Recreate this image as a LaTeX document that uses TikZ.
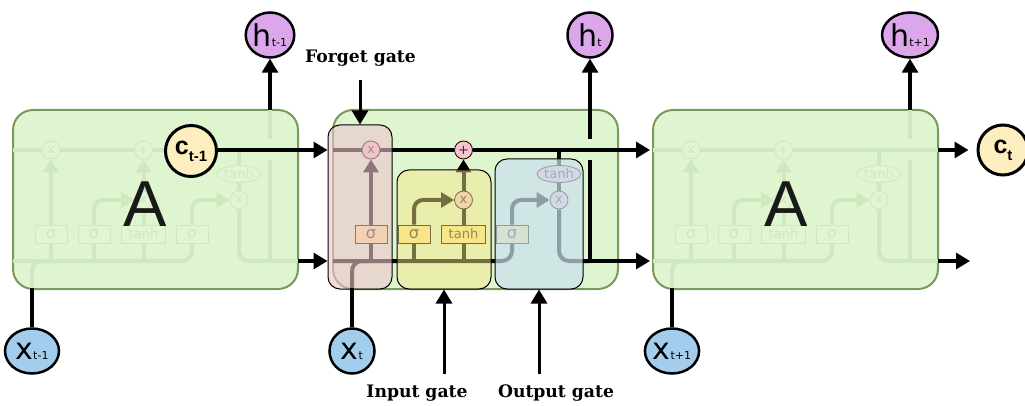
\documentclass[tikz,border=0pt]{standalone}
\usepackage{fontspec}
\setmainfont{DejaVu Sans}
\newfontfamily\arialf{Liberation Sans}
\newfontfamily\labfont{DejaVu Serif}
\usetikzlibrary{arrows.meta,shapes.geometric}
\definecolor{cellfill}{RGB}{222,245,207}
\definecolor{cellborder}{RGB}{122,153,92}
\definecolor{fadeline}{RGB}{207,232,192}
\definecolor{fadefill}{RGB}{225,245,211}
\definecolor{boxyellow}{RGB}{253,228,138}
\definecolor{oppink}{RGB}{248,195,203}
\definecolor{hpurple}{RGB}{219,167,234}
\definecolor{xblue}{RGB}{163,205,237}
\definecolor{ccream}{RGB}{253,238,192}
\definecolor{forgetc}{RGB}{237,197,205}
\definecolor{inputc}{RGB}{245,232,135}
\definecolor{outputc}{RGB}{201,224,239}
\definecolor{darktxt}{RGB}{50,50,50}
\colorlet{cl}{black}
\colorlet{cboxf}{boxyellow}
\colorlet{copf}{oppink}
\colorlet{ctxt}{darktxt}

\tikzset{
  cellbox/.style={draw=cellborder, line width=2pt, fill=cellfill, rounded corners=20pt},
  ln/.style={draw=cl, line width=4pt},
  intip/.style={-{Triangle[length=13pt,width=15pt]}},
  gbox/.style={draw=cl, line width=0.8pt, fill=cboxf, text=ctxt, minimum height=18pt, inner sep=0pt, font=\fontsize{16}{16}\selectfont},
  opc/.style={circle, draw=cl, line width=0.8pt, fill=copf, text=ctxt, minimum size=18pt, inner sep=0pt, font=\fontsize{13}{13}\selectfont},
  thell/.style={ellipse, draw=cl, line width=0.8pt, fill=copf, text=ctxt, minimum width=44pt, minimum height=17pt, inner sep=0pt, font=\fontsize{13}{13}\selectfont},
  gate/.style={rectangle, draw=black, line width=1pt, rounded corners=12pt},
  blk/.style={draw=black, line width=3.2pt},
  arr/.style={draw=black, line width=3.2pt, -{Triangle[length=14pt,width=16pt]}},
  hnode/.style={ellipse, draw=black, line width=2.5pt, fill=hpurple, inner sep=0pt, minimum height=45pt, minimum width=45pt},
  xnode/.style={ellipse, draw=black, line width=2.5pt, fill=xblue, inner sep=0pt, minimum height=45pt, minimum width=45pt},
  cnode/.style={circle, draw=black, line width=3pt, fill=ccream, inner sep=0pt, minimum size=51pt},
  glabel/.style={font=\labfont\bfseries\fontsize{17.2}{17.2}\selectfont, inner sep=0pt},
  bigA/.style={font=\arialf\fontsize{65}{65}\selectfont, inner sep=0pt, text=black!90}
}

\newcommand\lstmbody[2]{%
\begin{scope}[shift={(#2,0)}]
\coordinate (#1cin) at (0,150);
\coordinate (#1cout) at (285,150);
\coordinate (#1hin) at (0,261);
\coordinate (#1hout) at (285,261);
\coordinate (#1top) at (257,110);
\coordinate (#1gt) at (257,139);
\coordinate (#1gb) at (257,160);
\coordinate (#1hj) at (257,261);
\coordinate (#1tj) at (226,150);
\coordinate (#1bot) at (19,288);
\coordinate (#1xj) at (45,261);
\node[opc] (#1fx) at (38,150) {x};
\node[opc] (#1add) at (130.5,150) {+};
\node[opc] (#1ix) at (130.5,200) {x};
\node[opc] (#1ox) at (226,200) {x};
\node[thell] (#1th) at (226,174) {tanh};
\node[gbox, minimum width=32pt] (#1s1) at (38,234) {σ};
\node[gbox, minimum width=32pt] (#1s2) at (81,234) {σ};
\node[gbox, minimum width=44pt, font=\fontsize{13}{13}\selectfont] (#1tb) at (130.5,234) {tanh};
\node[gbox, minimum width=32pt] (#1s3) at (179,234) {σ};
\draw[ln] (#1cin) -- (#1fx);
\draw[ln] (#1fx) -- (#1add);
\draw[ln] (#1add) -- (#1cout);
\draw[ln] (#1tj) -- (#1th);
\draw[ln] (#1th) -- (#1ox);
\draw[ln, rounded corners=10pt] (#1ox) |- (#1hj);
\draw[ln] (#1top) -- (#1gt);
\draw[ln] (#1gb) -- (#1hj) -- (#1hout);
\draw[ln, rounded corners=10pt] (#1hin) -| (#1s3);
\draw[ln, rounded corners=10pt] (#1bot) |- (#1xj);
\draw[ln] (#1s1) -- (#1s1 |- #1hin);
\draw[ln] (#1s2) -- (#1s2 |- #1hin);
\draw[ln] (#1tb) -- (#1tb |- #1hin);
\draw[ln, intip] (#1s1) -- (#1fx);
\draw[ln, intip, rounded corners=9pt] (#1s2) |- (#1ix);
\draw[ln] (#1tb) -- (#1ix);
\draw[ln, intip] (#1ix) -- (#1add);
\draw[ln, intip, rounded corners=9pt] (#1s3) |- (#1ox);
\end{scope}}

\begin{document}
\begin{tikzpicture}[x=1pt, y=-1pt]
\useasboundingbox (0,0) rectangle (1025,406);

% ---------- left cell (faded) ----------
\draw[cellbox] (13,110) rectangle (298,289);
\colorlet{cl}{fadeline}\colorlet{cboxf}{fadefill}\colorlet{copf}{fadefill}\colorlet{ctxt}{fadeline}
\lstmbody{L}{13}
\node[bigA] (LA) at (145,204) {A};

% ---------- right cell (faded) ----------
\draw[cellbox] (653,110) rectangle (938,289);
\lstmbody{R}{653}
\node[bigA] (RA) at (786,204) {A};

% ---------- middle cell ----------
\draw[cellbox] (333,110) rectangle (618,289);
\colorlet{cl}{black}\colorlet{cboxf}{boxyellow}\colorlet{copf}{oppink}\colorlet{ctxt}{darktxt}
\lstmbody{M}{333}

% gate overlays
\node[gate, fill=forgetc, fill opacity=0.6, minimum width=64pt, minimum height=164pt] (fgate) at (360,207) {};
\node[gate, fill=inputc, fill opacity=0.48, minimum width=94pt, minimum height=119pt] (igate) at (444,229.5) {};
\node[gate, fill=outputc, fill opacity=0.71, minimum width=88pt, minimum height=130pt] (ogate) at (539,224) {};

% ---------- outer circles ----------
\node[hnode] (hL) at (270,35) {{\fontsize{30}{30}\selectfont h}{\fontsize{11}{11}\selectfont t-1}};
\node[hnode] (hM) at (590,35) {{\fontsize{30}{30}\selectfont h}{\fontsize{11}{11}\selectfont t}};
\node[hnode, minimum width=48pt] (hR) at (910,35) {{\fontsize{30}{30}\selectfont h}{\fontsize{11}{11}\selectfont t+1}};
\node[xnode, minimum width=54pt] (xL) at (32,351) {{\fontsize{30}{30}\selectfont x}{\fontsize{11}{11}\selectfont t-1}};
\node[xnode] (xM) at (352,351) {{\fontsize{30}{30}\selectfont x}{\fontsize{11}{11}\selectfont t}};
\node[xnode, minimum width=48pt] (xR) at (672,351) {{\fontsize{30}{30}\selectfont x}{\fontsize{11}{11}\selectfont t+1}};
\node[cnode] (cL) at (191,151) {{\arialf\bfseries\fontsize{25}{25}\selectfont c}{\arialf\bfseries\fontsize{15}{15}\selectfont\raisebox{-7pt}{t-1}}};
\node[cnode, minimum size=50pt] (cR) at (1003,150) {{\arialf\bfseries\fontsize{25}{25}\selectfont c}{\arialf\bfseries\fontsize{15}{15}\selectfont\raisebox{-7pt}{t}}};

% ---------- outer connectors ----------
\draw[arr] (Ltop) -- (hL);
\draw[arr] (Mgt) -- (hM);
\draw[arr] (Rtop) -- (hR);
\draw[blk] (Lbot) -- (xL);
\draw[blk] (Mbot) -- (xM);
\draw[blk] (Rbot) -- (xR);
\draw[arr] (cL.east |- Lcout) -- (fgate.west |- Lcout);
\draw[arr] (Lhout) -- (fgate.west |- Lhout);
\draw[arr, shorten >=3pt] (Mcout) -- (Rcin);
\draw[arr, shorten >=3pt] (Mhout) -- (Rhin);
\draw[arr, shorten >=8pt] (Rcout) -- (cR);
\coordinate (hend) at (970,261);
\draw[arr] (Rhout) -- (hend);

% ---------- gate labels ----------
\node[glabel] (flab) at (360.5,58) {Forget gate};
\node[glabel] (ilab) at (417,393) {Input gate};
\node[glabel] (olab) at (556,393) {Output gate};
\coordinate (fa) at (360,80);
\coordinate (ia) at (444,374);
\coordinate (oa) at (539,374);
\draw[arr, line width=3pt] (fa) -- (fgate.north);
\draw[arr, line width=3pt] (ia) -- (igate.south);
\draw[arr, line width=3pt] (oa) -- (ogate.south);
\end{tikzpicture}
\end{document}
